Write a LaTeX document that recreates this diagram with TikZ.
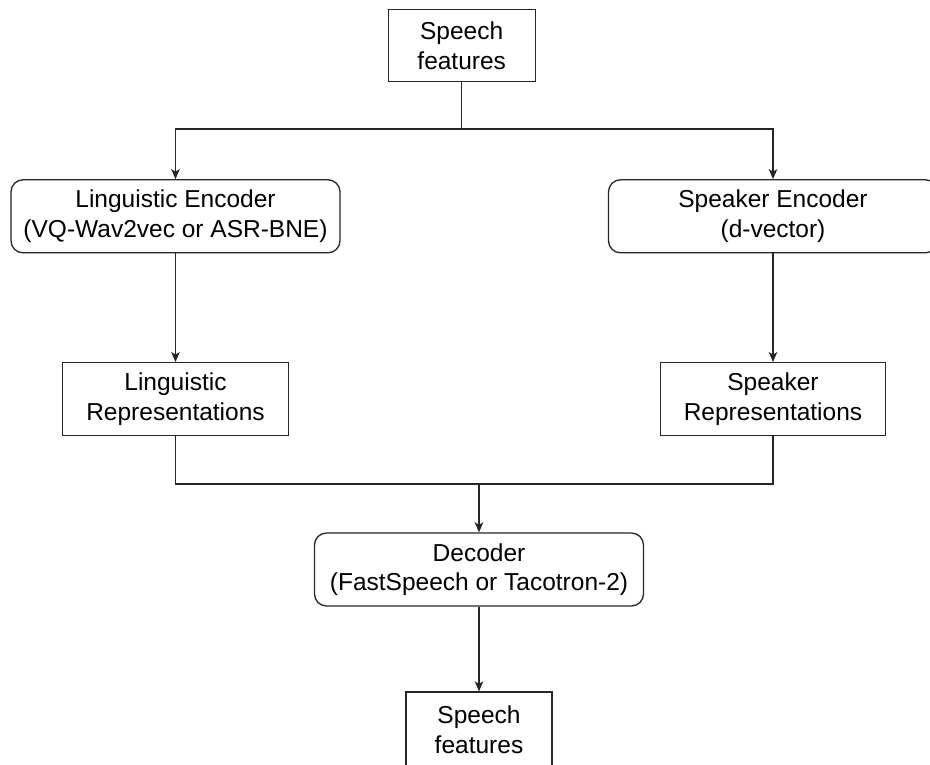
\documentclass[tikz,border=0pt]{standalone}
\usepackage{fontspec}
\setmainfont{Liberation Sans}
\usetikzlibrary{arrows.meta}
\begin{document}
\begin{tikzpicture}[x=1pt,y=-1pt,
  every node/.style={font=\fontsize{24.5pt}{29.5pt}\selectfont, align=center, inner sep=0pt, line width=1.3pt, draw=black!85},
  plainbox/.style={rectangle},
  roundbox/.style={rectangle, rounded corners=12pt},
  link/.style={line width=1.3pt, draw=black!85},
  arr/.style={link, -{Stealth[length=10pt,width=8.5pt,inset=2.5pt]}}]
  \useasboundingbox (0,0) rectangle (930,764);
  \clip (0,0) rectangle (930,764);

  % boxes
  \node[plainbox, minimum width=147pt, minimum height=72.5pt] (src) at (461.7,45.5) {Speech\\features};
  \node[roundbox, minimum width=329pt, minimum height=73pt] (lenc) at (175.5,216.3) {Linguistic Encoder\\(VQ-Wav2vec or ASR-BNE)};
  \node[roundbox, minimum width=329pt, minimum height=73pt] (senc) at (773,216.3) {Speaker Encoder\\(d-vector)};
  \node[plainbox, minimum width=225.5pt, minimum height=73pt] (lrep) at (175.5,399.2) {Linguistic\\Representations};
  \node[plainbox, minimum width=225.5pt, minimum height=73pt] (srep) at (773,399.2) {Speaker\\Representations};
  \node[roundbox, minimum width=329pt, minimum height=73pt] (dec) at (479,569.5) {Decoder\\(FastSpeech or Tacotron-2)};
  \node[plainbox, minimum width=146pt, minimum height=75pt] (dst) at (479,729.5) {Speech\\features};

  % split after the input features
  \coordinate (split) at (461.7,129);
  \draw[link] (src.south) -- (split);
  \draw[arr] (split) -| (lenc.north);
  \draw[arr] (split) -| (senc.north);

  % encoders to representations
  \draw[arr] (lenc.south) -- (lrep.north);
  \draw[arr] (senc.south) -- (srep.north);

  % merge into the decoder
  \coordinate (merge) at (479,484);
  \draw[link] (lrep.south) |- (merge);
  \draw[link] (srep.south) |- (merge);
  \draw[arr] (merge) -- (dec.north);

  % decoder to output features
  \draw[arr] (dec.south) -- (dst.north);
\end{tikzpicture}
\end{document}
